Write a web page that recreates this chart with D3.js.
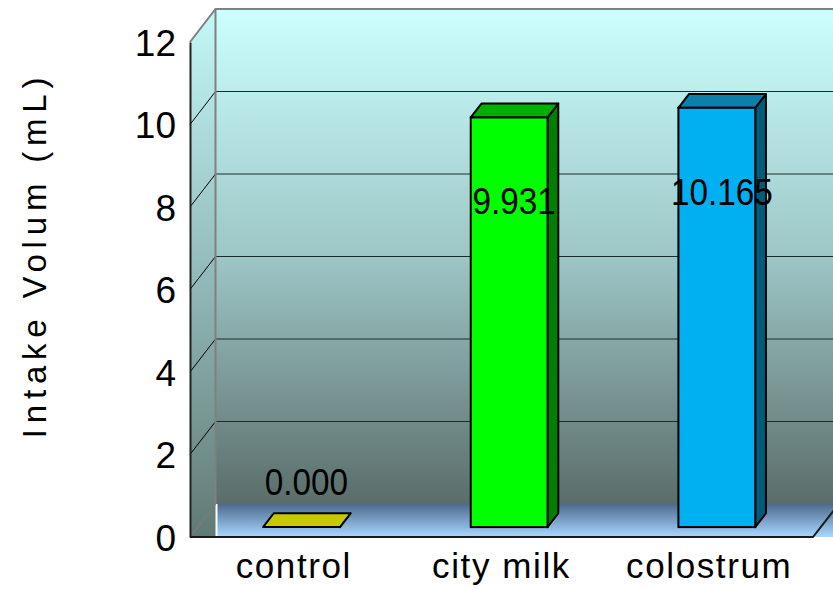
<!DOCTYPE html>
<html>
<head>
<meta charset="utf-8">
<script src="https://cdn.jsdelivr.net/npm/d3@7"></script>
<style>
  body { margin: 0; background: #fff; }
  svg { display: block; font-family: "Liberation Sans", Arial, sans-serif; }
</style>
</head>
<body>
<svg id="chart" width="833" height="589"></svg>
<script>
const categories = ["control", "city milk", "colostrum"];
const values = [0.000, 9.931, 10.165];
const valueLabels = ["0.000", "9.931", "10.165"];
const yTicks = [0, 2, 4, 6, 8, 10, 12];
const axisTitle = "Intake Volum (mL)";

// face colours per bar: front, top, side
const barColors = [
    { front: "#c8c800", top: "#c8c800", side: "#8a8a00" },
    { front: "#00ff00", top: "#00b000", side: "#008000" },
    { front: "#00b0f0", top: "#0a80aa", side: "#005c7a" }
];

(function (d3) {
    'use strict';

    const svg = d3.select("#chart");

    const left = 190, right = 813;
    const depthX = 25.5, depthY = -33;   // wall depth offset

    const y = d3.scaleLinear().domain([0, 12]).range([537, 42]);
    const x = d3.scaleBand().domain(categories).range([left, right]);

    // point in depth: z = 0 front plane, z = 1 back wall
    const px = (xf, z) => xf + z * depthX;
    const py = (v, z) => y(v) + z * depthY;

    const defs = svg.append("defs");
    const wallGrad = defs.append("linearGradient").attr("id", "wall")
        .attr("x1", 0).attr("y1", 0).attr("x2", 0).attr("y2", 1);
    wallGrad.append("stop").attr("offset", "0%").attr("stop-color", "#ccffff");
    wallGrad.append("stop").attr("offset", "50%").attr("stop-color", "#9dc6c6");
    wallGrad.append("stop").attr("offset", "100%").attr("stop-color", "#5a6d6a");

    const sideGrad = defs.append("linearGradient").attr("id", "side")
        .attr("x1", 0).attr("y1", 0).attr("x2", 0).attr("y2", 1);
    sideGrad.append("stop").attr("offset", "0%").attr("stop-color", "#c4f8f8");
    sideGrad.append("stop").attr("offset", "50%").attr("stop-color", "#93baba");
    sideGrad.append("stop").attr("offset", "100%").attr("stop-color", "#607a75");

    const floorGrad = defs.append("linearGradient").attr("id", "floor")
        .attr("x1", 0).attr("y1", 0).attr("x2", 0).attr("y2", 1);
    floorGrad.append("stop").attr("offset", "0%").attr("stop-color", "#4d6a8e");
    floorGrad.append("stop").attr("offset", "100%").attr("stop-color", "#a8d8ff");

    const line = d3.line();

    // back wall
    svg.append("rect")
        .attr("x", px(left, 1)).attr("y", py(12, 1))
        .attr("width", 833 - px(left, 1) + 5)
        .attr("height", py(0, 1) - py(12, 1))
        .style("fill", "url(#wall)");

    // side wall
    svg.append("path")
        .attr("d", line([[px(left, 0), py(12, 0)], [px(left, 1), py(12, 1)],
            [px(left, 1), py(0, 0)], [px(left, 0), py(0, 0)]]) + "Z")
        .style("fill", "url(#side)");

    // floor
    svg.append("path")
        .attr("d", line([[px(left, 1) + 2, py(0, 1)], [840, py(0, 1)],
            [840, py(0, 0)], [px(left, 1) + 2, py(0, 0)]]) + "Z")
        .style("fill", "url(#floor)");

    // gridlines on back wall and side wall
    const grid = yTicks.filter(t => t > 0 && t < 12);
    svg.append("g").selectAll("line").data(grid).enter().append("line")
        .attr("x1", px(left, 1)).attr("x2", 833)
        .attr("y1", d => py(d, 1)).attr("y2", d => py(d, 1))
        .style("stroke", "#1e2a2a").style("stroke-width", 1);
    svg.append("g").selectAll("line").data(grid).enter().append("line")
        .attr("x1", px(left, 0)).attr("x2", px(left, 1))
        .attr("y1", d => py(d, 0)).attr("y2", d => py(d, 1))
        .style("stroke", "#000").style("stroke-width", 1);

    // wall edges
    svg.append("path")
        .attr("d", line([[px(left, 0), py(12, 0)], [px(left, 1), py(12, 1)], [833, py(12, 1)]]))
        .style("fill", "none").style("stroke", "#808080").style("stroke-width", 2);
    svg.append("line")
        .attr("x1", px(left, 1)).attr("x2", px(left, 1))
        .attr("y1", py(12, 1)).attr("y2", py(0, 1))
        .style("stroke", "#808080").style("stroke-width", 2);
    svg.append("line")
        .attr("x1", px(left, 0)).attr("x2", px(left, 1))
        .attr("y1", py(0, 0)).attr("y2", py(0, 1))
        .style("stroke", "#7a7a7a").style("stroke-width", 1.5);
    // floor edges
    svg.append("path")
        .attr("d", line([[px(left, 0), py(0, 0)], [px(right, 0), py(0, 0)], [px(right, 0) + 25, py(0, 0) - 32]]))
        .style("fill", "none").style("stroke", "#1a1a1a").style("stroke-width", 2);

    // bars
    const z0 = 0.3, z1 = 0.72;
    const barW = x.step() * 0.37;
    const bars = categories.map((c, i) => {
        const cx = x(c) + x.bandwidth() / 2 + z0 * depthX;
        return { c: c, v: values[i], col: barColors[i], x0: cx - barW / 2, x1: cx + barW / 2 };
    });

    const barG = svg.append("g").selectAll("g").data(bars).enter().append("g");
    const dx = (z1 - z0) * depthX, dy = (z1 - z0) * depthY;
    barG.append("path")   // side
        .attr("d", d => line([[d.x1, y(d.v) + z0 * depthY], [d.x1 + dx, y(d.v) + z0 * depthY + dy],
            [d.x1 + dx, y(0) + z0 * depthY + dy], [d.x1, y(0) + z0 * depthY]]) + "Z")
        .style("fill", d => d.col.side).style("stroke", "#000").style("stroke-width", 2)
        .style("stroke-linejoin", "round");
    barG.append("path")   // top
        .attr("d", d => line([[d.x0, y(d.v) + z0 * depthY], [d.x0 + dx, y(d.v) + z0 * depthY + dy],
            [d.x1 + dx, y(d.v) + z0 * depthY + dy], [d.x1, y(d.v) + z0 * depthY]]) + "Z")
        .style("fill", d => d.col.top).style("stroke", "#000").style("stroke-width", 2)
        .style("stroke-linejoin", "round");
    barG.filter(d => d.v > 0).append("rect")   // front
        .attr("x", d => d.x0).attr("y", d => y(d.v) + z0 * depthY)
        .attr("width", barW).attr("height", d => y(0) - y(d.v))
        .style("fill", d => d.col.front).style("stroke", "#000").style("stroke-width", 2);

    // value labels
    svg.append("g").selectAll("text").data(bars).enter().append("text")
        .attr("x", d => (d.x0 + d.x1) / 2 + 5)
        .attr("y", d => d.v > 0 ? y(d.v) + z0 * depthY + 97 : y(d.v) + z0 * depthY - 32)
        .attr("text-anchor", "middle")
        .style("font-size", "37px")
        .text((d, i) => valueLabels[i])
        .each(function () {
            const w = this.getComputedTextLength();
            d3.select(this).attr("textLength", w * 0.9).attr("lengthAdjust", "spacingAndGlyphs");
        });

    // y axis
    const yAxis = svg.append("g")
        .attr("transform", `translate(${left},0)`)
        .call(d3.axisLeft(y).tickValues(yTicks).tickFormat(d3.format("d")).tickSize(0).tickPadding(14));
    yAxis.select(".domain").style("stroke", "#222").style("stroke-width", 2);
    yAxis.selectAll("text")
        .style("font-size", "37px").style("font-family", "'Liberation Sans', Arial, sans-serif")
        .style("fill", "#000").attr("dy", "0.36em");

    // category labels
    svg.append("g").selectAll("text").data(categories).enter().append("text")
        .attr("x", d => x(d) + x.bandwidth() / 2)
        .attr("y", 578)
        .attr("text-anchor", "middle")
        .style("font-size", "35px")
        .style("letter-spacing", "1.6px")
        .text(d => d);

    // axis title
    svg.append("text")
        .attr("transform", "translate(46,255) rotate(-90)")
        .attr("text-anchor", "middle")
        .style("font-size", "33px")
        .style("letter-spacing", "5.8px")
        .text(axisTitle);

}(d3));
</script>
</body>
</html>
